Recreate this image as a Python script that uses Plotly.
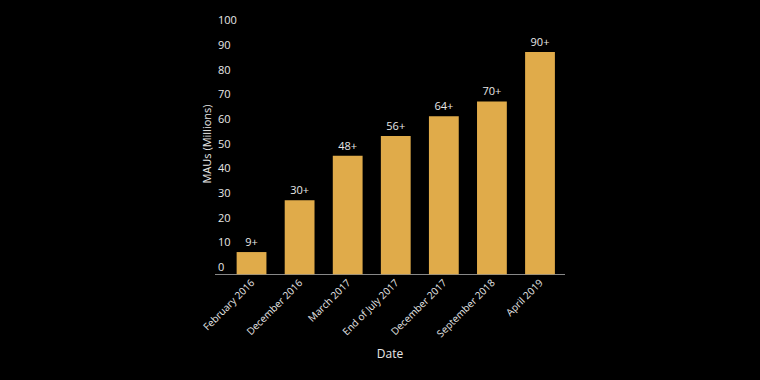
import plotly.graph_objects as go

categories = ["February 2016", "December 2016", "March 2017", "End of July 2017",
              "December 2017", "September 2018", "April 2019"]
values = [9, 30, 48, 56, 64, 70, 90]
labels = ["9+", "30+", "48+", "56+", "64+", "70+", "90+"]
y_ticks = [0, 10, 20, 30, 40, 50, 60, 70, 80, 90, 100]

FONT = "Open Sans"
TXT = "#e8e8e8"

fig = go.Figure(go.Bar(
    x=categories, y=values, text=labels, textposition="outside",
    textfont=dict(family=FONT, size=11, color=TXT),
    marker=dict(color="#e0ab4a", line=dict(width=0)),
    width=0.62, cliponaxis=False,
))

fig.update_layout(
    width=760, height=380,
    paper_bgcolor="black", plot_bgcolor="black",
    margin=dict(l=215, r=195, t=10, b=102, autoexpand=False),
    font=dict(family=FONT, size=11, color=TXT),
    showlegend=False,
    xaxis=dict(
        range=[-0.76, 6.52], tickangle=-45, showgrid=False, showline=False,
        ticks="", automargin=False, ticklabelstandoff=-4,
        tickfont=dict(family=FONT, size=10, color=TXT),
        title=dict(text="Date", font=dict(family=FONT, size=12, color=TXT), standoff=10),
    ),
    yaxis=dict(
        range=[-1.5, 107], tickvals=y_ticks, showgrid=False, zeroline=True,
        zerolinecolor="#888888", zerolinewidth=1,
        showline=False, ticks="", ticklabelposition="inside", ticklabelshift=-7,
        automargin=False,
        tickfont=dict(family=FONT, size=11, color=TXT),
        title=dict(text="MAUs (Millions)", font=dict(family=FONT, size=11, color=TXT), standoff=4),
    ),
)

fig.write_html("out.html", config={"displayModeBar": False},
               post_script="document.body.style.margin='0';document.body.style.background='black';")
